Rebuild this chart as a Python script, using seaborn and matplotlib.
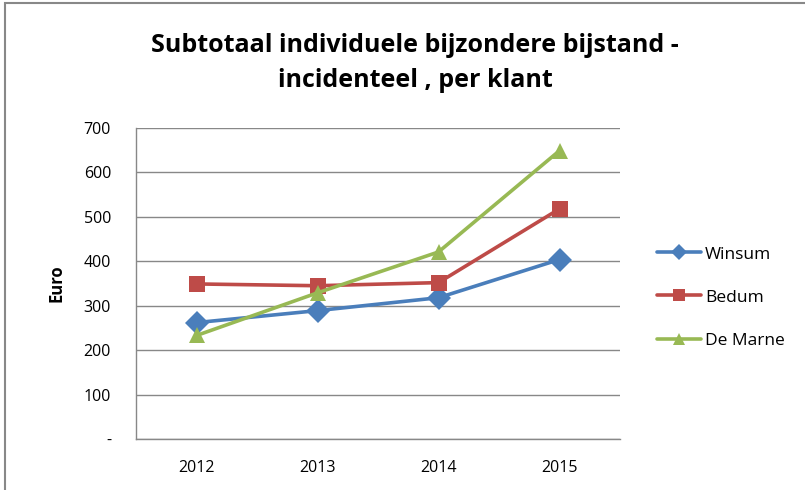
import pandas as pd
import seaborn as sns
import matplotlib.pyplot as plt
from matplotlib.patches import Rectangle

years = [2012, 2013, 2014, 2015]
winsum = [262, 289, 318, 404]
bedum = [349, 345, 352, 518]
de_marne = [233, 329, 421, 649]
series = ['Winsum', 'Bedum', 'De Marne']
colors = ['#4A7EBB', '#BE4B48', '#98B954']
yticks = [0, 100, 200, 300, 400, 500, 600, 700]
ytick_labels = ['-', '100', '200', '300', '400', '500', '600', '700']

df = pd.DataFrame({
    'jaar': years * 3,
    'waarde': winsum + bedum + de_marne,
    'gemeente': [s for s in series for _ in years],
})

sns.set_style('white')
plt.rcParams['font.family'] = ['Open Sans', 'DejaVu Sans']
plt.rcParams['text.color'] = 'black'
plt.rcParams['xtick.color'] = 'black'
plt.rcParams['ytick.color'] = 'black'

fig = plt.figure(figsize=(8.05, 4.9), dpi=100)
ax = fig.add_axes([136 / 805, 1 - 439 / 490, 484 / 805, 311 / 490])

sns.lineplot(data=df, x='jaar', y='waarde', hue='gemeente', style='gemeente',
             hue_order=series, style_order=series, palette=colors,
             markers=['D', 's', '^'], dashes=False, linewidth=2.6,
             markersize=12, markeredgewidth=0, ax=ax)

ax.set_xlim(2011.5, 2015.5)
ax.set_ylim(0, 700)
ax.set_xticks(years)
ax.set_xticklabels([str(y) for y in years], fontsize=11.5)
ax.set_yticks(yticks)
ax.set_yticklabels(ytick_labels, fontsize=11.5)
ax.tick_params(axis='x', length=0, pad=15)
ax.tick_params(axis='y', length=0, pad=18)
ax.yaxis.grid(True, color='#888888', linewidth=1)
ax.set_axisbelow(True)
for side in ['top', 'right']:
    ax.spines[side].set_visible(False)
for side in ['left', 'bottom']:
    ax.spines[side].set_color('#888888')
    ax.spines[side].set_linewidth(1)

ax.set_xlabel('')
ax.set_ylabel('Euro', fontsize=12, fontweight='bold', color='black', labelpad=13)

handles, labels = ax.get_legend_handles_labels()
leg = ax.legend(handles, labels, loc='center left', bbox_to_anchor=(1.045, 0.455),
                frameon=False, fontsize=12.5, handlelength=2.5, labelspacing=1.55,
                handletextpad=0.25)
for h in leg.get_lines():
    h.set_markersize(8)

fig.text(415 / 805, 1 - 63 / 490, 'Subtotaal individuele bijzondere bijstand -\nincidenteel , per klant',
         ha='center', va='center', fontsize=18, fontweight='bold', linespacing=1.5)

fig.patches.append(Rectangle((5 / 805, -0.1), 1.2, 1 - 3 / 490 + 0.1, transform=fig.transFigure,
                             fill=False, edgecolor='#888888', linewidth=1.5))

fig.savefig('out.png', dpi=100)
